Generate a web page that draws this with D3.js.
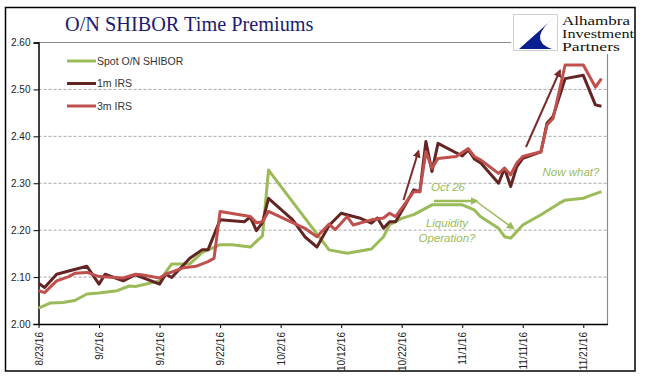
<!DOCTYPE html>
<html><head><meta charset="utf-8">
<script src="https://cdn.jsdelivr.net/npm/d3@7"></script>
<style>body{margin:0;background:#fff}svg{display:block}</style>
</head><body>
<svg id="c" width="645" height="382"></svg>
<script>
// ---- data ----
const title = "O/N SHIBOR Time Premiums";
const seriesNames = ["Spot O/N SHIBOR", "1m IRS", "3m IRS"];
const xTickLabels = ["8/23/16","9/2/16","9/12/16","9/22/16","10/2/16","10/12/16","10/22/16","11/1/16","11/11/16","11/21/16"];
const yTicks = [2.00, 2.10, 2.20, 2.30, 2.40, 2.50, 2.60];

const shiborDates = ["2016-08-23","2016-08-25","2016-08-27","2016-08-29","2016-08-31","2016-09-02","2016-09-05","2016-09-07","2016-09-08","2016-09-12","2016-09-14","2016-09-17","2016-09-19","2016-09-22","2016-09-24","2016-09-27","2016-09-29","2016-09-30","2016-10-10","2016-10-13","2016-10-17","2016-10-19","2016-10-20","2016-10-22","2016-10-24","2016-10-27","2016-11-01","2016-11-03","2016-11-04","2016-11-07","2016-11-08","2016-11-09","2016-11-11","2016-11-14","2016-11-17","2016-11-18","2016-11-21","2016-11-22","2016-11-24"];
const shiborValues = [2.034,2.045,2.046,2.050,2.064,2.066,2.071,2.081,2.080,2.092,2.128,2.128,2.152,2.169,2.169,2.164,2.188,2.328,2.158,2.151,2.160,2.186,2.212,2.225,2.233,2.254,2.254,2.243,2.229,2.204,2.186,2.183,2.211,2.233,2.257,2.264,2.268,2.273,2.282];

const irs1mDates = ["2016-08-23","2016-08-24","2016-08-26","2016-08-28","2016-08-31","2016-09-02","2016-09-03","2016-09-06","2016-09-08","2016-09-12","2016-09-13","2016-09-14","2016-09-17","2016-09-19","2016-09-20","2016-09-22","2016-09-26","2016-09-27","2016-09-28","2016-09-29","2016-09-30","2016-10-04","2016-10-06","2016-10-08","2016-10-10","2016-10-12","2016-10-15","2016-10-17","2016-10-18","2016-10-19","2016-10-20","2016-10-21","2016-10-24","2016-10-25","2016-10-26","2016-10-27","2016-10-28","2016-11-01","2016-11-02","2016-11-03","2016-11-04","2016-11-07","2016-11-08","2016-11-09","2016-11-10","2016-11-11","2016-11-14","2016-11-15","2016-11-16","2016-11-18","2016-11-21","2016-11-23","2016-11-24"];
const irs1mValues = [2.087,2.078,2.106,2.113,2.123,2.085,2.106,2.092,2.105,2.085,2.106,2.099,2.140,2.158,2.158,2.222,2.218,2.228,2.199,2.216,2.268,2.222,2.186,2.164,2.210,2.236,2.226,2.215,2.226,2.204,2.218,2.218,2.286,2.282,2.389,2.325,2.385,2.358,2.371,2.352,2.344,2.300,2.332,2.293,2.335,2.353,2.367,2.428,2.442,2.523,2.530,2.467,2.464];

const irs3mDates = ["2016-08-23","2016-08-24","2016-08-26","2016-08-28","2016-08-29","2016-08-31","2016-09-02","2016-09-06","2016-09-08","2016-09-09","2016-09-12","2016-09-13","2016-09-16","2016-09-18","2016-09-20","2016-09-21","2016-09-22","2016-09-27","2016-09-28","2016-09-29","2016-09-30","2016-10-06","2016-10-08","2016-10-10","2016-10-11","2016-10-13","2016-10-14","2016-10-17","2016-10-19","2016-10-20","2016-10-21","2016-10-24","2016-10-25","2016-10-26","2016-10-27","2016-10-28","2016-10-31","2016-11-02","2016-11-03","2016-11-04","2016-11-07","2016-11-08","2016-11-09","2016-11-10","2016-11-11","2016-11-14","2016-11-15","2016-11-16","2016-11-18","2016-11-21","2016-11-23","2016-11-24"];
const irs3mValues = [2.071,2.067,2.092,2.101,2.108,2.110,2.101,2.098,2.106,2.105,2.098,2.106,2.120,2.123,2.133,2.140,2.240,2.229,2.216,2.218,2.240,2.204,2.186,2.213,2.201,2.229,2.211,2.222,2.226,2.236,2.229,2.282,2.282,2.367,2.332,2.353,2.357,2.374,2.357,2.350,2.321,2.332,2.318,2.343,2.357,2.367,2.424,2.438,2.552,2.552,2.505,2.523];

const annotations = ["Oct 26", "Liquidity", "Operation?", "Now what?"];
const logoLines = ["Alhambra", "Investment", "Partners"];

// ---- drawing ----
const svg = d3.select("#c");
const parse = d3.utcParse("%Y-%m-%d");
const parseTick = d3.utcParse("%m/%d/%y");
const colors = ["#9BBB59", "#632523", "#C0504D"];

const x = d3.scaleUtc().domain([parse("2016-08-23"), parse("2016-11-25")]).range([38.5, 607.5]);
const y = d3.scaleLinear().domain([2.0, 2.6]).range([324, 42.5]);

// outer frame
svg.append("rect").attr("x",5.5).attr("y",7.5).attr("width",629.5).attr("height",363.5)
  .attr("fill","none").attr("stroke","#000").attr("stroke-width",1.5);

// gridlines
svg.append("g").selectAll("line").data(yTicks.filter(v => v > 2.0 && v < 2.6)).join("line")
  .attr("x1",38.5).attr("x2",607.5).attr("y1",d=>y(d)).attr("y2",d=>y(d))
  .attr("stroke","#a6a6a6").attr("stroke-width",1).attr("stroke-dasharray","3,2");
// plot border top & right
svg.append("line").attr("x1",38.5).attr("x2",607.5).attr("y1",y(2.6)).attr("y2",y(2.6)).attr("stroke","#8c8c8c").attr("stroke-width",1.2);
svg.append("line").attr("x1",607.5).attr("x2",607.5).attr("y1",y(2.6)).attr("y2",y(2.0)).attr("stroke","#8c8c8c").attr("stroke-width",1.2);

// axes
const yAxis = d3.axisLeft(y).tickValues(yTicks).tickFormat(d3.format(".2f")).tickSize(5).tickPadding(3);
const gy = svg.append("g").attr("transform","translate(38.5,0)").call(yAxis);
gy.select(".domain").attr("stroke","#000").attr("stroke-width",1.5);
gy.selectAll(".tick line").attr("stroke","#000");
gy.selectAll(".tick text").attr("font-family","Liberation Sans, Arial, sans-serif").attr("font-size",10).attr("fill","#222");

const xAxis = d3.axisBottom(x).tickValues(xTickLabels.map(parseTick)).tickFormat((d,i)=>xTickLabels[i]).tickSize(4).tickSizeOuter(0);
const gx = svg.append("g").attr("transform","translate(0,324)").call(xAxis);
gx.select(".domain").attr("stroke","#000").attr("stroke-width",1.5);
gx.selectAll(".tick line").attr("stroke","#000");
gx.selectAll(".tick text")
  .attr("font-family","Liberation Sans, Arial, sans-serif").attr("font-size",10).attr("fill","#222")
  .attr("text-anchor","end").attr("transform","rotate(-90)")
  .attr("x",-8).attr("y",0).attr("dy","0.35em");

// series
const series = [
  {dates: shiborDates, values: shiborValues},
  {dates: irs1mDates, values: irs1mValues},
  {dates: irs3mDates, values: irs3mValues}
];
const line = d3.line().x(d=>x(d[0])).y(d=>y(d[1]));
series.forEach((s,i)=>{
  const pts = s.dates.map((d,j)=>[parse(d), s.values[j]]);
  svg.append("path").datum(pts).attr("d",line).attr("fill","none")
    .attr("stroke",colors[i]).attr("stroke-width",3).attr("stroke-linejoin","round");
});

// legend
const lg = svg.append("g");
seriesNames.forEach((n,i)=>{
  const ly = 61 + i*22.5;
  lg.append("line").attr("x1",67).attr("x2",96).attr("y1",ly).attr("y2",ly).attr("stroke",colors[i]).attr("stroke-width",3);
  lg.append("text").attr("x",97).attr("y",ly).attr("dy","0.35em").text(n)
    .attr("font-family","Liberation Sans, Arial, sans-serif").attr("font-size",10.5).attr("fill","#333");
});

// title
svg.append("text").attr("x",65).attr("y",31).text(title)
  .attr("font-family","Liberation Serif, Times New Roman, serif").attr("font-size",20.3).attr("fill","#1c1c6e");

// annotation arrows
const defs = svg.append("defs");
function marker(id, color, size){
  defs.append("marker").attr("id",id).attr("viewBox","0 0 10 10").attr("refX",8).attr("refY",5)
    .attr("markerWidth",size).attr("markerHeight",size).attr("orient","auto").attr("markerUnits","userSpaceOnUse")
    .append("path").attr("d","M0,0 L10,5 L0,10 z").attr("fill",color);
}
marker("arR","#7a2b2b",8);
marker("arG","#9BBB59",8);
const arrows = [
  {x1:403.5,y1:200,x2:418.5,y2:151,c:"#7a2b2b",w:2,m:"arR"},
  {x1:526,y1:147,x2:560,y2:70.5,c:"#7a2b2b",w:2,m:"arR"},
  {x1:434,y1:201,x2:477,y2:201,c:"#9BBB59",w:2.5,m:"arG"},
  {x1:477,y1:202,x2:513.5,y2:228.5,c:"#9BBB59",w:1.5,m:"arG"}
];
arrows.forEach(a=>{
  svg.append("line").attr("x1",a.x1).attr("y1",a.y1).attr("x2",a.x2).attr("y2",a.y2)
    .attr("stroke",a.c).attr("stroke-width",a.w).attr("marker-end",`url(#${a.m})`);
});
const annPos = [[448,191],[447,227],[447,242],[571,176]];
annotations.forEach((t,i)=>{
  svg.append("text").attr("x",annPos[i][0]).attr("y",annPos[i][1]).attr("text-anchor","middle").text(t)
    .attr("font-family","Liberation Sans, Arial, sans-serif").attr("font-style","italic").attr("font-size",11.5).attr("fill","#9BBB59");
});

// logo
svg.append("rect").attr("x",511).attr("y",9).attr("width",123).attr("height",45).attr("fill","#fff");
svg.append("rect").attr("x",513.5).attr("y",14.5).attr("width",44).attr("height",36).attr("fill","#fff").attr("stroke","#d0d0d0").attr("stroke-width",1);
svg.append("path").attr("d","M556,16 L519,49 L552,49 Q526,40 556,16 Z").attr("fill","#0a1f8f");
logoLines.forEach((t,i)=>{
  svg.append("text").attr("x",562).attr("y",24.5 + i*13).text(t)
    .attr("font-family","Liberation Serif, Times New Roman, serif").attr("font-size",11.6).attr("fill","#111")
    .attr("textLength",[68,72,58][i]).attr("lengthAdjust","spacingAndGlyphs");
});
</script>
</body></html>
